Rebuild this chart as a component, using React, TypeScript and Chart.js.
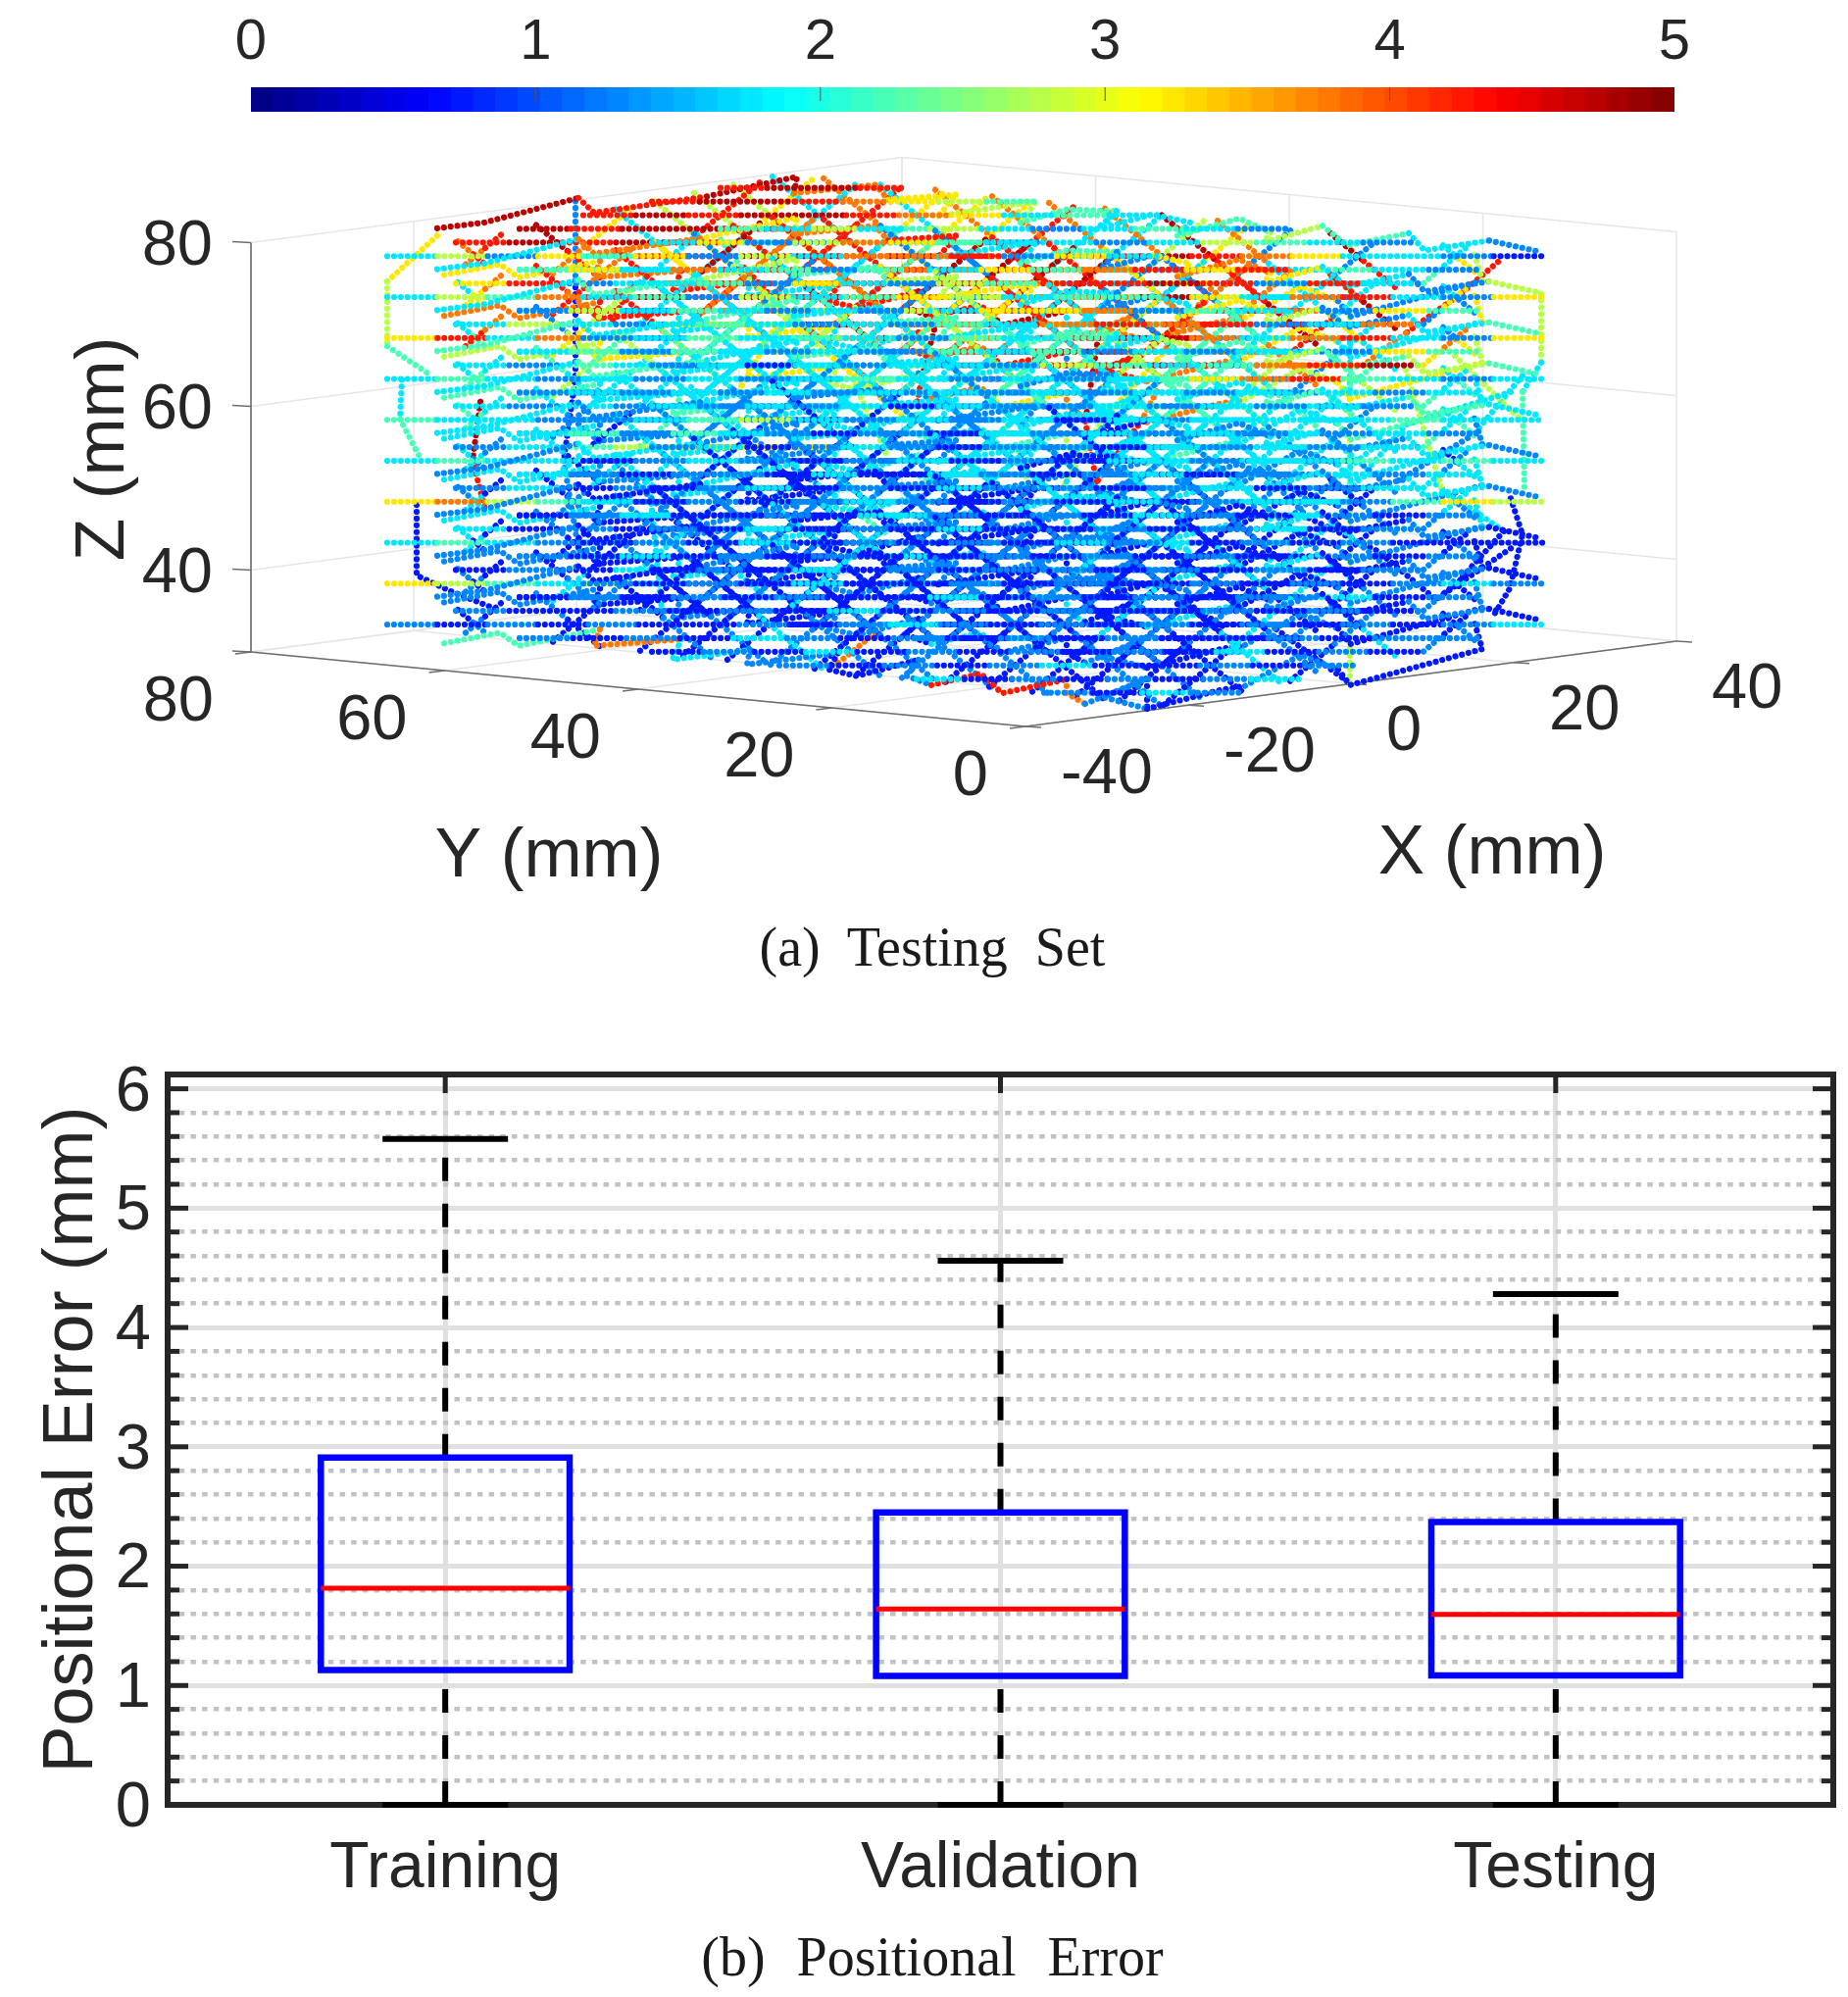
import React, { useEffect, useRef } from "react";
import { Chart, registerables } from "chart.js";
Chart.register(...registerables);

// ---------- (a) testing set: heights of the layers (mm), from bottom to top
const layerHeights = [33, 38, 43, 48, 53, 58, 63, 68, 73, 78];

// rows of a layer: across-offset (mm in view height), start and end along the view (mm)
const rowAcross = [8.33, 6.67, 5, 3.33, 1.67, 0, -1.67, -3.33, -5, -6.67, -8.33];
const rowStart = [-25, -32, -39, -45.5, -52, -59, -45.5, -32, -19, -5, 8];
const rowEnd = [-6, 7, 20, 33, 46, 59, 52.7, 46.5, 40, 34, 28];

// error along each row, one digit per stretch: error (mm) = digit / 2 + 0.25
const rowErrors = [
  ["2121","12131212","21213112121","121212113121212","211212131212112121","21212112123212121212123","212132121212112122","121312121213121","21212311212","31212123","2132"],
  ["1213","21312131","12131212132","213121231212121","121321212312121212","65435312123231212121232","121231212321212312","212123121231212","12312123121","21312121","1212"],
  ["2131","12312132","31212321213","123121232121321","312123212131212312","34323332213121231212111","231212312132121212","121321231212312","21231212111","12312111","2111"],
  ["3212","23123212","12321231213","321231213212312","231232123132123123","67543234213123212332465","123212321323123212","232123213231324","32123213234","21323243","3234"],
  ["2323","32323132","23453232313","342433321323232","234566653232132323","34332233212323132334343","323132313232132323","231323213232313","32313231323","23132343","2343"],
  ["3232","23132332","32323432323","232343323232323","323232333232323232","43323232123232323333433","232323232321323232","323233323232342","23234323232","32323433","3433"],
  ["3232","34323243","23434324343","342435424342323","324323434245434789","34323343234434346784323","323243542324342323","342354323423423","43425423343","34345423","3423"],
  ["3424","34263254","34253465344","253476253667243","353265476787878237","68375254365678997378326","353265378898373264","452356788982763","35378264326","34263453","3453"],
  ["4353","36257643","46253778263","463788273647868","682378682878898283","35478989898267896378326","382878989873487264","678989263487828","78983678263","68273452","6342"],
  ["8998","89987654","89899876343","989987345323432","898984253423235432","35263899989873898763321","343276387873263432","363787262363432","36878263432","37263432","3432"],
];

// toothed back edge and front edge of a layer: [along, across]
const backEdge = [[-53.9,3.4],[-49.1,4.1],[-39.5,7.1],[-37.9,5.3],[-26.4,7.3],[-17.2,9.7],[-17.5,7.7],[-9.2,8.7],[-7.9,6.9],[-0.9,7.5],[-2.8,4.9],[7.2,6.7],[5.6,4.1],[10.3,5.7],[15.4,5.5],[13.8,3.4],[19.1,5.1],[22.9,4.1],[21.6,2.5],[27.9,4.6],[31.1,2.9],[30.4,1.7],[36.4,3.7],[38.9,1.3],[45.2,2.8],[46.8,0.7],[53.4,1.9],[58.7,0.5]];
const frontEdge = [[-53.2,-2.3],[-47.5,-1],[-45.6,-2.6],[-37.3,-0.6],[-37.9,-2.6],[-29,-1.8],[-29.9,-4.3],[-22,-3.1],[-22.3,-4.9],[-13,-3.5],[-14,-5.5],[-11.1,-6.3],[-4.8,-4.3],[-6,-6.3],[-3.5,-7.4],[1.5,-6],[2.2,-6.7],[3.7,-8.4],[10.3,-6.7],[10.3,-8.4],[12.2,-9.7],[18.5,-6.6],[14.1,-8.9],[18.5,-10.3],[26,-8],[28.5,-7.5],[34.2,-3.7],[38,-5.5],[39.2,-7.4],[52.7,-3],[51.8,0.6]];
const backErrors = ["21212121212121","21212121313121","21312131213121","23232312323232","32323231323232","34343323434343","43434343545454","34545632365234","37678342676325","98976543345432"];
const frontErrors = ["47321288721211","21212132121212","21312121313121","31231232123123","32313232323123","32323432323232","43433434534343","56365276737565","78363878287636","67838989377625"];

// diagonal passes through a layer: [along1, across1, along2, across2]
const diagonals = [
  [-51.8,1.8,-48.7,-1.3],[-43.8,3.8,-37.3,-2.7],[-35.7,5.7,-25.9,-4.1],[-27.7,7.7,-14.5,-5.5],[-19.7,9.7,-3,-7],[-8.7,8.7,8.4,-8.4],[2.7,7.3,19.8,-9.8],[14.2,5.8,28.2,-8.2],[25.7,4.3,36.1,-6.1],[37.2,2.8,44,-4],[48.7,1.3,51.9,-1.9],
  [-51,-1,-47,3],[-42.1,-2.1,-33.8,6.2],[-33.2,-3.2,-20.5,9.5],[-24.3,-4.3,-11,9],[-15.4,-5.4,-2.1,7.9],[-6.5,-6.5,6.7,6.7],[2.4,-7.6,15.6,5.6],[11.3,-8.7,24.5,4.5],[20.2,-9.8,33.3,3.3],[33.1,-6.9,42.2,2.2],[46.7,-3.3,51,1],
  [-31.7,6.7,-20.2,-4.8],[-23.7,8.7,-8.8,-6.2],[-14.5,9.5,2.7,-7.7],[-3.1,8.1,14.1,-9.1],[8.5,6.5,24.3,-9.3],[20,5,32.2,-7.2],
  [-28.8,-3.8,-15.3,9.7],[-19.9,-4.9,-6.5,8.5],[-11,-6,2.3,7.3],[-2,-7,11.2,6.2],[6.8,-8.2,20,5],[15.7,-9.3,28.9,3.9],
];
const diagonalErrors = [
  "12211213121212211213122112121312211212131221121212211213122112121312",
  "21122112311221213112212131122112121321122121212131122112121321122112",
  "31212321132112312132123112311221323112213121121231123112213231122131",
  "23123213232132313212323123213231232132123123321232312321323123213212",
  "32313232132332313232133231323323132323132332232133231323323132323323",
  "43323432343243343243344323433243343234433243323433243343234323433243",
  "34435434453443543445344354344534435434453443453443543445344354344534",
  "34258632386785234763268765376342765378432367345876523476326876537634",
  "36878327892387638989326787397834898973678326678983278923876389893267",
  "78983654343276787398367876387326367345323243565676787398367876387326",
];

// passes that climb between the layers: along (mm), height (mm), error digits
const climbAlong = [
  [-53.9,-59,-59,-54.5],[-57.5,-57.7,-55.5],[-56,-56,-56,-52.6,-47.5],[-39.8,-39.8,-39.8,-41,-39.5],[-49.5,-50.3,-49],
  [39.2,39.2,39.2,39.2,39.2,39.2,39.2,39.2],[13.5,12.2,13.5],[-3.2,-4.4,-5],[54.3,50.5,44.9,40.5],[58.7,58.7,56.8,57],
  [55.6,56.8,55.5,54],[55.6,44.9,39.2],[13.5,17.9,19.8],[-28,-22,-15,-8],[-36,-30,-24,-20],[25,20,14,10],[30,35,42,48],[-25,-20,-14,-6],
  [44.9,48.6],[49.9,56.8],[56.8,51.8,43.6],[55.6,48],[48,54.9,50.5],[-12.4,-7.9],[-19.4,-23.2],[-22.6,-18.8],[-34.1,-36],[-32.2,-30.9],
  [-13,-9.2],[5.3,6.6],[19.8,26.7],[31.7,39.2],[18.5,18.5],
];
const climbHeight = [
  [80.5,74.9,67,63.4],[62.9,58.1,53],[47.6,45.8,39,37.1,34.7],[84.7,75,63.2,53,42.2],[60.2,53,47],
  [74.6,67.5,60.5,53.5,46.5,39.5,32.5,25.5],[68,57.8,49.4],[69,63.5,60],[77.3,73.4,68.6,64.6],[73.4,65,61.4,49.4],
  [48.4,44,37.4,34.4],[61.4,57.4,49.4],[50.6,57.8,62.2],[62,56,50,44],[53,46,40,36],[74,66,58,50],[52,46,42,36],[80,72,66,58],
  [64.1,49.4],[65.8,57.8],[63.4,56.2,50.2],[42.3,36.1],[50.1,44.4,38.6],[65.3,53.3],[69.4,61.4],[76.6,71.8],[74.6,70.1],[49.4,33.6],
  [28.3,32],[54.2,49.4],[37.8,32.4],[32.4,25.8],[26.3,22.9],
];
const climbErrors = ["654","34","1111","2112","98","5364535","98","98","887","534","111","33","87","324","213","765","211","456",
  "5","5","32","1","31","5","6","8","8","3","7","5","1","1","1"];

// 3D axes
const zTicks = [80, 60, 40];
const yTicks = [80, 60, 40, 20, 0];
const xTicks = [-40, -20, 0, 20, 40];
const colorbarTicks = [0, 1, 2, 3, 4, 5];
const colorbarBins = [0,1,2,3,4,5,6,7,8,9,10,11,12,13,14,15,16,17,18,19,20,21,22,23,24,25,26,27,28,29,30,31,32,33,34,35,36,37,38,39,40,41,42,43,44,45,46,47,48,49,50,51,52,53,54,55,56,57,58,59,60,61,62,63];

// ---------- (b) positional error
const categories = ["Training", "Validation", "Testing"];
const q1 = [1.13, 1.08, 1.085];
const median = [1.815, 1.64, 1.595];
const q3 = [2.91, 2.45, 2.37];
const upperWhisker = [5.58, 4.56, 4.28];
const lowerWhisker = [0, 0, 0];

const SANS = '"Liberation Sans", Arial, sans-serif';
const INK = "#262626";

const clamp = (v: number) => Math.max(0, Math.min(1, v));
function jet(err: number) {
  const bin = Math.min(63, Math.max(0, Math.floor((err / 5) * 64)));
  const t = (bin + 0.5) / 64;
  const r = clamp(Math.min(4 * t - 1.5, -4 * t + 4.5));
  const g = clamp(Math.min(4 * t - 0.5, -4 * t + 3.5));
  const b = clamp(Math.min(4 * t + 0.5, -4 * t + 2.5));
  return `rgb(${Math.round(r * 255)},${Math.round(g * 255)},${Math.round(b * 255)})`;
}
const digitError = (s: string, i: number, n: number) => {
  const d = s[Math.min(s.length - 1, Math.floor((i * s.length) / n))];
  return Number(d) / 2 + 0.25;
};

function pass(points: { x: number; y: number; e: number }[]) {
  const errs = points.map((p) => p.e);
  return {
    data: points,
    showLine: true,
    pointRadius: 0,
    fill: false,
    borderWidth: 6.2,
    borderCapStyle: "round",
    borderDash: [0.01, 6.9],
    borderColor: "#00f",
    tension: 0,
    segment: { borderColor: (ctx: any) => jet(errs[ctx.p0DataIndex]) },
  };
}

function buildTrajectories() {
  const out: any[] = [];
  layerHeights.forEach((z, l) => {
    rowAcross.forEach((c, r) => {
      const s = rowErrors[l][r];
      const pts = [];
      for (let k = 0; k <= s.length; k++) {
        pts.push({
          x: rowStart[r] + ((rowEnd[r] - rowStart[r]) * k) / s.length,
          y: z + c,
          e: Number(s[Math.min(k, s.length - 1)]) / 2 + 0.25,
        });
      }
      out.push(pass(pts));
    });
    out.push(pass(backEdge.map((p, i) => ({ x: p[0], y: z + p[1], e: digitError(backErrors[l], i, backEdge.length) }))));
    out.push(pass(frontEdge.map((p, i) => ({ x: p[0], y: z + p[1], e: digitError(frontErrors[l], i, frontEdge.length) }))));
    diagonals.forEach((d, i) => {
      const s = diagonalErrors[l];
      const e1 = Number(s[i * 2]) / 2 + 0.25;
      const e2 = Number(s[i * 2 + 1]) / 2 + 0.25;
      out.push(pass([
        { x: d[0], y: z + d[1], e: e1 },
        { x: (d[0] + d[2]) / 2, y: z + (d[1] + d[3]) / 2, e: e2 },
        { x: d[2], y: z + d[3], e: e2 },
      ]));
    });
  });
  climbAlong.forEach((al, i) => {
    out.push(pass(al.map((a, k) => ({ x: a, y: climbHeight[i][k], e: digitError(climbErrors[i], k, al.length - 1) }))));
  });
  return out;
}

// camera of the 3D view: (X, Y, Z) mm to view-plane coordinates
const view = (X: number, Y: number, Z: number) => {
  const px = 1046 + (X + 40) * 8.3 - Y * 9.875;
  const py = 741 - (X + 40) * 1.0875 - Y * 0.95 - (Z - 30) * 8.35;
  return { h: (px - 985) / 10, v: 33 + (637 - py) / 8.35 };
};

const boxPlugin = {
  id: "box3d",
  beforeDatasetsDraw(chart: any) {
    const { ctx, scales } = chart;
    const P = (X: number, Y: number, Z: number) => {
      const p = view(X, Y, Z);
      return [scales.x.getPixelForValue(p.h), scales.y.getPixelForValue(p.v)];
    };
    const seg = (a: number[], b: number[]) => {
      ctx.beginPath();
      ctx.moveTo(a[0], a[1]);
      ctx.lineTo(b[0], b[1]);
      ctx.stroke();
    };
    ctx.save();
    ctx.strokeStyle = "#e6e6e6";
    ctx.lineWidth = 1.5;
    [30, ...zTicks].forEach((z) => {
      seg(P(-40, 80, z), P(40, 80, z));
      seg(P(40, 80, z), P(40, 0, z));
    });
    xTicks.forEach((x) => {
      seg(P(x, 80, 30), P(x, 80, 80));
      seg(P(x, 80, 30), P(x, 0, 30));
    });
    yTicks.forEach((y) => {
      seg(P(40, y, 30), P(40, y, 80));
      seg(P(40, y, 30), P(-40, y, 30));
    });
    ctx.strokeStyle = "#6e6e6e";
    ctx.lineWidth = 1.6;
    seg(P(-40, 80, 30), P(-40, 80, 80));
    seg(P(-40, 80, 30), P(-40, 0, 30));
    seg(P(-40, 0, 30), P(40, 0, 30));
    zTicks.concat([30]).forEach((z) => {
      const a = P(-40, 80, z);
      seg(a, [a[0] - 19, a[1] - 1]);
    });
    yTicks.forEach((y) => {
      const a = P(-40, y, 30);
      seg(a, [a[0] - 16, a[1] + 2]);
    });
    xTicks.forEach((x) => {
      const a = P(x, 0, 30);
      seg(a, [a[0] + 16, a[1] + 1]);
    });
    ctx.restore();
  },
  afterDraw(chart: any) {
    const { ctx, scales } = chart;
    const P = (X: number, Y: number, Z: number) => {
      const p = view(X, Y, Z);
      return [scales.x.getPixelForValue(p.h), scales.y.getPixelForValue(p.v)];
    };
    ctx.save();
    ctx.fillStyle = INK;
    ctx.textBaseline = "middle";
    ctx.font = `65px ${SANS}`;
    ctx.textAlign = "right";
    zTicks.forEach((z) => {
      const a = P(-40, 80, z);
      ctx.fillText(String(z), a[0] - 39, a[1] + 5);
    });
    yTicks.forEach((y) => {
      const a = P(-40, y, 30);
      ctx.fillText(String(y), a[0] - 38, a[1] + 52);
    });
    ctx.textAlign = "left";
    xTicks.forEach((x) => {
      const a = P(x, 0, 30);
      ctx.fillText(String(x), a[0] + 36, a[1] + 50);
    });
    ctx.font = `71px ${SANS}`;
    ctx.textAlign = "center";
    ctx.fillText("Y (mm)", 560, 874);
    ctx.fillText("X (mm)", 1522, 871);
    ctx.translate(106, 458);
    ctx.rotate(-Math.PI / 2);
    ctx.fillText("Z (mm)", 0, 0);
    ctx.restore();
  },
};

const colorbarPlugin = {
  id: "cbTicks",
  afterDatasetsDraw(chart: any) {
    const { ctx, scales, chartArea } = chart;
    ctx.save();
    ctx.strokeStyle = "#555";
    ctx.lineWidth = 1;
    colorbarTicks.slice(1, 5).forEach((t) => {
      const x = scales.x.getPixelForValue(t);
      ctx.beginPath();
      ctx.moveTo(x, chartArea.top);
      ctx.lineTo(x, chartArea.top + 14);
      ctx.stroke();
    });
    ctx.restore();
  },
};

const framePlugin = {
  id: "frame",
  beforeDatasetsDraw(chart: any) {
    const { ctx, scales, chartArea: a } = chart;
    ctx.save();
    ctx.strokeStyle = INK;
    ctx.lineWidth = 6;
    ctx.strokeRect(a.left, a.top, a.right - a.left, a.bottom - a.top);
    ctx.lineWidth = 5;
    const line = (x1: number, y1: number, x2: number, y2: number) => {
      ctx.beginPath();
      ctx.moveTo(x1, y1);
      ctx.lineTo(x2, y2);
      ctx.stroke();
    };
    scales.y.ticks.forEach((t: any) => {
      if (t.value <= 0) return;
      const y = scales.y.getPixelForValue(t.value);
      const len = Math.abs(t.value - Math.round(t.value)) < 1e-6 ? 21 : 12;
      line(a.left, y, a.left + len, y);
      line(a.right, y, a.right - len, y);
    });
    categories.forEach((_, i) => {
      const x = scales.x.getPixelForValue(i);
      line(x, a.top, x, a.top + 19);
    });
    ctx.restore();
  },
};

function zeroPad(scale: any) {
  scale.paddingLeft = 0;
  scale.paddingRight = 0;
  scale.paddingTop = 0;
  scale.paddingBottom = 0;
}

function useChart(make: (c: HTMLCanvasElement) => Chart) {
  const ref = useRef<HTMLCanvasElement>(null);
  useEffect(() => {
    const ch = make(ref.current as HTMLCanvasElement);
    return () => ch.destroy();
  }, []);
  return ref;
}

function Layer({ top, height, make }: any) {
  const ref = useChart(make);
  return (
    <div style={{ position: "absolute", left: 0, top, width: 1885, height }}>
      <canvas ref={ref} width={1885} height={height} style={{ display: "block", width: 1885, height }} />
    </div>
  );
}

const makeColorbar = (c: HTMLCanvasElement) =>
  new Chart(c, {
    type: "bar",
    data: {
      datasets: [
        {
          data: colorbarBins.map((b) => ({ x: ((b + 0.5) * 5) / 64, y: [0, 1] })),
          backgroundColor: colorbarBins.map((b) => jet(((b + 0.5) * 5) / 64)),
          borderWidth: 0,
          barPercentage: 1,
          categoryPercentage: 1,
          inflateAmount: 0.4,
        } as any,
      ],
    },
    options: {
      responsive: false,
      animation: false,
      events: [],
      layout: { padding: { left: 256, right: 177, top: 0, bottom: 0 } },
      plugins: { legend: { display: false }, tooltip: { enabled: false } },
      scales: {
        x: {
          type: "linear",
          position: "top",
          min: 0,
          max: 5,
          offset: false,
          grid: { display: false, drawTicks: false },
          border: { display: false },
          ticks: { stepSize: 1, padding: 10, color: INK, font: { family: SANS, size: 58 }, maxRotation: 0 },
          afterFit: (s: any) => {
            zeroPad(s);
            s.height = 89;
          },
        },
        y: { display: false, min: 0, max: 1 },
      },
    } as any,
    plugins: [colorbarPlugin],
  });

const make3D = (c: HTMLCanvasElement) =>
  new Chart(c, {
    type: "scatter",
    data: { datasets: buildTrajectories() },
    options: {
      responsive: false,
      animation: false,
      events: [],
      layout: { padding: 0 },
      plugins: { legend: { display: false }, tooltip: { enabled: false } },
      scales: {
        x: { type: "linear", display: false, min: -98.5, max: 90 },
        y: { type: "linear", display: false, min: 33 - 363 / 8.35, max: 33 + 637 / 8.35 },
      },
    } as any,
    plugins: [boxPlugin],
  });

const boxHalf = 0.224;
const capHalf = 0.113;
const stroke = (pts: any[], color: string, extra: any = {}) => ({
  xAxisID: "x2",
  data: pts,
  showLine: true,
  pointRadius: 0,
  borderColor: color,
  borderWidth: 6,
  clip: false,
  ...extra,
});

const makeBoxes = (c: HTMLCanvasElement) => {
  const datasets: any[] = [];
  categories.forEach((_, i) => {
    const m = i + 0.5;
    datasets.push(stroke([{ x: m - boxHalf, y: median[i] }, { x: m + boxHalf, y: median[i] }], "#ff0000", { borderWidth: 5 }));
  });
  categories.forEach((_, i) => {
    const m = i + 0.5;
    datasets.push(stroke(
      [
        { x: m - boxHalf, y: q1[i] },
        { x: m + boxHalf, y: q1[i] },
        { x: m + boxHalf, y: q3[i] },
        { x: m - boxHalf, y: q3[i] },
        { x: m - boxHalf, y: q1[i] },
        { x: m, y: q1[i] },
      ],
      "#0000ff",
      { borderWidth: 6.5 },
    ));
    datasets.push(stroke([{ x: m - capHalf, y: upperWhisker[i] }, { x: m + capHalf, y: upperWhisker[i] }], "#000"));
    datasets.push(stroke([{ x: m - capHalf, y: lowerWhisker[i] }, { x: m + capHalf, y: lowerWhisker[i] }], "#000"));
    datasets.push(stroke([{ x: m, y: q3[i] }, { x: m, y: upperWhisker[i] }], "#000", { borderDash: [24, 23] }));
    datasets.push(stroke([{ x: m, y: lowerWhisker[i] }, { x: m, y: q1[i] }], "#000", { borderDash: [24, 23] }));
  });
  const isMajor = (v: number) => Math.abs(v - Math.round(v)) < 1e-6;
  return new Chart(c, {
    type: "scatter",
    data: { labels: categories, datasets },
    options: {
      responsive: false,
      animation: false,
      events: [],
      layout: { padding: { left: 0, right: 15, top: 56, bottom: 0 } },
      plugins: { legend: { display: false }, tooltip: { enabled: false } },
      scales: {
        x: {
          type: "category",
          labels: categories,
          offset: true,
          grid: { offset: false, color: "#e0e0e0", lineWidth: 5, drawTicks: false },
          border: { display: false },
          ticks: { padding: 26, color: INK, font: { family: SANS, size: 66 }, maxRotation: 0, autoSkip: false },
          afterFit: (s: any) => {
            zeroPad(s);
            s.height = 196;
          },
        },
        x2: { type: "linear", display: false, min: 0, max: 3, offset: false },
        y: {
          type: "linear",
          min: 0,
          max: 6.12,
          grid: {
            drawTicks: false,
            color: (ctx: any) => (isMajor(ctx.tick.value) ? "#e0e0e0" : "#c2c2c2"),
            lineWidth: (ctx: any) => (isMajor(ctx.tick.value) ? 5 : 4.5),
          },
          border: {
            display: false,
            dash: (ctx: any) => (isMajor(ctx.tick.value) ? [] : [5.5, 6.2]),
          },
          ticks: {
            stepSize: 0.2,
            includeBounds: false,
            autoSkip: false,
            padding: 17,
            labelOffset: 4,
            color: INK,
            font: { family: SANS, size: 65 },
            callback: (v: any) => (isMajor(Number(v)) ? String(Math.round(Number(v))) : ""),
          },
          title: {
            display: true,
            text: "Positional Error (mm)",
            color: INK,
            font: { family: SANS, size: 72, lineHeight: 1 },
            padding: { top: 38, bottom: 0 },
          },
          afterFit: (s: any) => {
            zeroPad(s);
            s.width = 171;
          },
        },
      },
    } as any,
    plugins: [framePlugin],
  });
};

const captionStyle = (top: number, wordSpacing: number): React.CSSProperties => ({
  position: "absolute",
  left: 0,
  width: 1902,
  top,
  textAlign: "center",
  font: '56px "Liberation Serif", "Times New Roman", serif',
  lineHeight: "60px",
  wordSpacing,
  color: "#1a1a1a",
});

export default function App() {
  return (
    <div style={{ position: "absolute", left: 0, top: 0, width: 1885, height: 2037, overflow: "hidden", background: "#fff" }}>
      <Layer top={0} height={1000} make={make3D} />
      <Layer top={0} height={114} make={makeColorbar} />
      <div style={captionStyle(936, 14)}>(a) Testing Set</div>
      <Layer top={1040} height={997} make={makeBoxes} />
      <div style={captionStyle(1966, 18)}>(b) Positional Error</div>
    </div>
  );
}
